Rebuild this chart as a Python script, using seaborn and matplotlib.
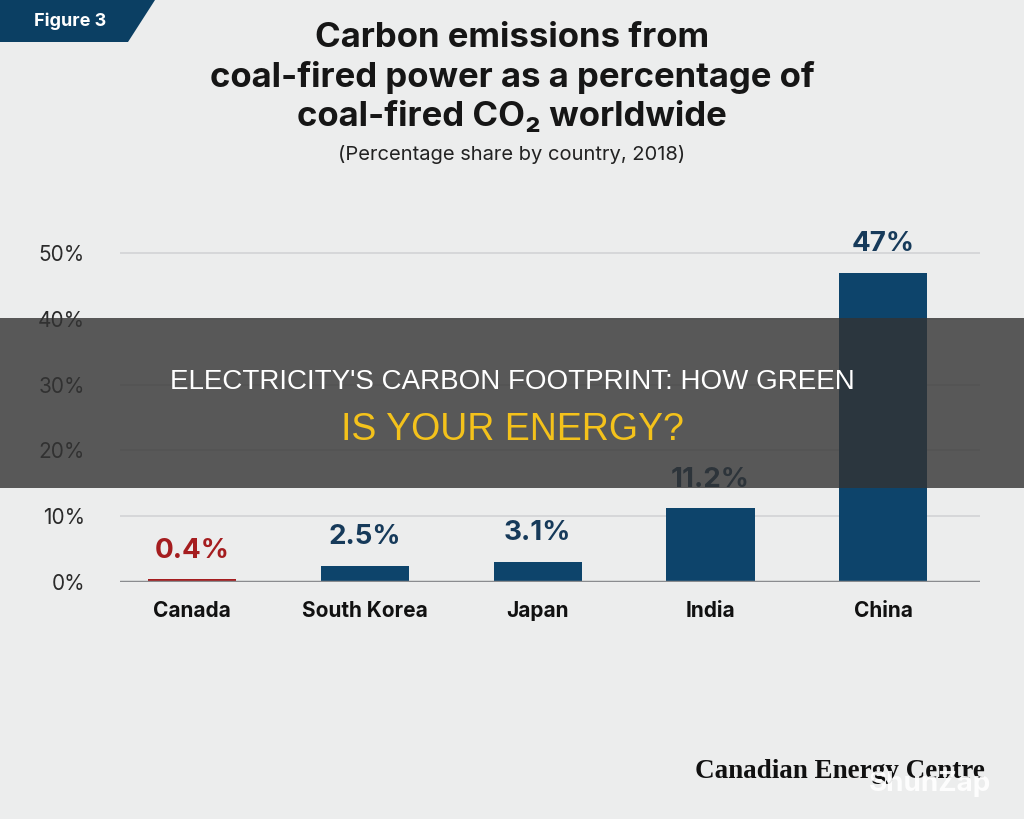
import matplotlib
matplotlib.use("Agg")
import matplotlib.pyplot as plt
import seaborn as sns
import pandas as pd
from matplotlib.patches import Polygon, Rectangle

countries = ["Canada", "South Korea", "Japan", "India", "China"]
shares = [0.4, 2.5, 3.1, 11.2, 47.0]
value_labels = ["0.4%", "2.5%", "3.1%", "11.2%", "47%"]
yticks = [0, 10, 20, 30, 40, 50]
ytick_labels = ["0%", "10%", "20%", "30%", "40%", "50%"]

sns.set_theme(style="white")
plt.rcParams["font.family"] = ["Inter", "DejaVu Sans"]

bg = "#eceded"
navy = "#0d446b"
red = "#a51d1f"
label_navy = "#163a5a"

fig = plt.figure(figsize=(10.24, 8.19), dpi=100, facecolor=bg)
ax = fig.add_axes([0.117, 0.2894, 0.84, 0.4419])
ax.set_facecolor("none")

df = pd.DataFrame({"country": countries, "share": shares})
palette = [red] + [navy] * 4
sns.barplot(data=df, x="country", y="share", hue="country", palette=palette,
            legend=False, width=0.51, ax=ax, saturation=1, linewidth=0,
            edgecolor="none")

ax.set_ylim(0, 55)
ax.set_xlim(-0.42, 4.56)
ax.set_yticks(yticks)
ax.set_yticklabels(ytick_labels, fontsize=15, color="#2b2b2b")
ax.set_xlabel("")
ax.set_ylabel("")
for y in yticks[1:]:
    ax.axhline(y, color="#d6d7d9", lw=1.4, zorder=0)
ax.axhline(0, color="#8a8c8f", lw=2.5, zorder=3)
for s in ax.spines.values():
    s.set_visible(False)
ax.tick_params(axis="y", length=0, pad=25)
ax.tick_params(axis="x", length=0, pad=14)
for lbl in ax.get_xticklabels():
    lbl.set_fontsize(15)
    lbl.set_fontweight("bold")
    lbl.set_color("#111111")

for i, (v, t) in enumerate(zip(shares, value_labels)):
    ax.annotate(t, (i, v), xytext=(0, 11), textcoords="offset points",
                ha="center", va="bottom", fontsize=20, fontweight="bold",
                color=red if i == 0 else label_navy)

# Figure 3 tag
fig.patches.append(Polygon([[0, 1], [155 / 1024, 1], [128 / 1024, 1 - 42 / 819], [0, 1 - 42 / 819]],
                           closed=True, transform=fig.transFigure, facecolor="#0b3f63",
                           edgecolor="none"))
fig.text(70 / 1024, 1 - 21 / 819, "Figure 3", ha="center", va="center", fontsize=13,
         fontweight="bold", color="white")

# Title
title_lines = ["Carbon emissions from", "coal-fired power as a percentage of",
               "coal-fired CO\u2082 worldwide"]
for yy, line in zip([38, 77, 117], title_lines):
    fig.text(0.5, 1 - yy / 819, line, ha="center", va="center", fontsize=25,
             fontweight="bold", color="#161616")
fig.text(0.5, 1 - 155 / 819, "(Percentage share by country, 2018)", ha="center",
         va="center", fontsize=14.5, color="#222222")

# Source
fig.text(985 / 1024, 1 - 771 / 819, "Canadian Energy Centre", ha="right", va="center",
         fontsize=19.5, fontweight="bold", family="Liberation Serif", color="#111111")

# Banner overlay
fig.patches.append(Rectangle((0, 1 - 488 / 819), 1, 170 / 819, transform=fig.transFigure,
                             facecolor="#333333", alpha=0.8, edgecolor="none", zorder=10))
fig.text(0.5, 1 - 382 / 819, "ELECTRICITY'S CARBON FOOTPRINT: HOW GREEN", ha="center",
         va="center", fontsize=20, color="white", family="Liberation Sans", zorder=11)
fig.text(0.5, 1 - 430 / 819, "IS YOUR ENERGY?", ha="center", va="center", fontsize=27,
         color="#f4c21b", family="Liberation Sans", zorder=11)

fig.text(930 / 1024, 1 - 784 / 819, "ShunZap", ha="center", va="center", fontsize=20,
         fontweight="bold", color="white", alpha=0.9, zorder=11)

fig.savefig("out.png", dpi=100, facecolor=bg)
